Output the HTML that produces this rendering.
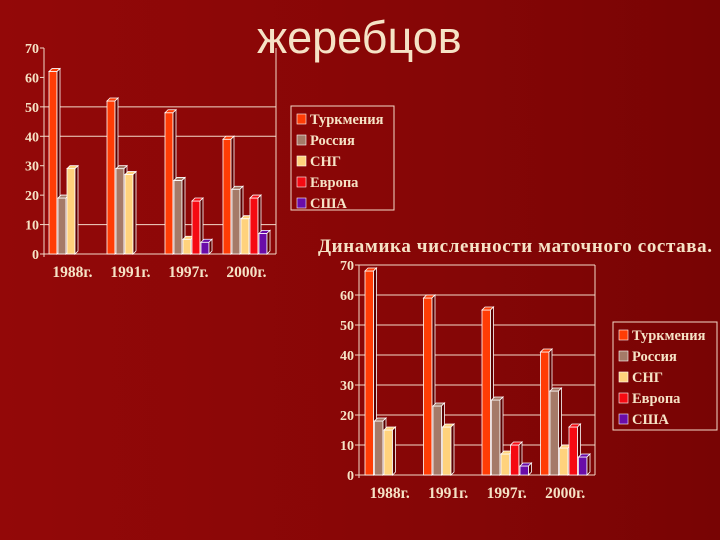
<!DOCTYPE html>
<html><head><meta charset="utf-8">
<style>
html,body{margin:0;padding:0;}
body{width:720px;height:540px;overflow:hidden;background:linear-gradient(90deg,#930808 0%,#860606 60%,#780404 100%);position:relative;font-family:"Liberation Serif","Noto Serif CJK SC",serif;}
#title{position:absolute;left:257px;top:12px;font-family:"Liberation Sans","DejaVu Sans",sans-serif;font-size:45px;font-weight:normal;color:#f6e3c6;margin:0;line-height:52px;}
svg{position:absolute;left:0;top:0;}
</style></head>
<body>
<h1 id="title">жеребцов</h1>
<svg id="svg" width="720" height="540"></svg>
<script>
const categories=["1988г.","1991г.","1997г.","2000г."];
const seriesNames=["Туркмения","Россия","СНГ","Европа","США"];
const c1Turk=[62,52,48,39];
const c1Rus=[19,29,25,22];
const c1Sng=[29,27,5,12];
const c1Eur=[0,0,18,19];
const c1Usa=[0,0,4,7];
const c2Turk=[68,59,55,41];
const c2Rus=[18,23,25,28];
const c2Sng=[15,16,7,9];
const c2Eur=[0,0,10,16];
const c2Usa=[0,0,3,6];
const yTicks=[0,10,20,30,40,50,60,70];
const colors=["#ff3c05","#a57a68","#ffd27c","#f50a12","#6a0ca8"];
const NS="http://www.w3.org/2000/svg";
const svg=document.getElementById('svg');
function mk(tag,attrs,parent){const e=document.createElementNS(NS,tag);for(const k in attrs)e.setAttribute(k,attrs[k]);(parent||svg).appendChild(e);return e;}
function drawChart(cfg,series,name){
  const g=mk('g',{});
  
  
  const y=v=>cfg.y0-(v/70)*(cfg.y0-cfg.y70);
  const x=(ci,si)=>cfg.x0+ci*cfg.gap+si*cfg.bw;
  cfg.grid.forEach(v=>{const l=mk('line',{x1:cfg.axisX,x2:cfg.right,y1:y(v),y2:y(v),stroke:'#f3d9c8','stroke-width':1},g);
    
    });
  mk('line',{x1:cfg.right,x2:cfg.right,y1:y(70),y2:y(0),stroke:'#f3d9c8'},g);
  const ax=mk('line',{x1:cfg.axisX,x2:cfg.axisX,y1:y(70),y2:y(0)+3,stroke:'#f3d9c8'},g);
  
  
  const bx=mk('line',{x1:cfg.axisX-3,x2:cfg.right,y1:y(0),y2:y(0),stroke:'#f3d9c8'},g);
  
  
  yTicks.forEach(v=>{
    mk('line',{x1:cfg.axisX-4,x2:cfg.axisX,y1:y(v),y2:y(v),stroke:'#f3d9c8'},g);
    const t=mk('text',{x:cfg.axisX-5,y:y(v)+5,'text-anchor':'end','font-size':14,'font-weight':'bold',fill:'#f6e3c6'},g);
    t.textContent=v;
    
    
  });
  categories.forEach((c,ci)=>{
    series.forEach((s,si)=>{
      const v=s[ci];const bx0=x(ci,si);const top=y(v);const h=y(0)-top;const d=3;
      if(v>0){
        const r=mk('rect',{x:bx0,y:top,width:cfg.bw-1,height:h,fill:colors[si],stroke:'#ffffff','stroke-width':0.8},g);
        
        
        mk('polygon',{points:`${bx0},${top} ${bx0+d},${top-d} ${bx0+cfg.bw-1+d},${top-d} ${bx0+cfg.bw-1},${top}`,fill:colors[si],stroke:'#fff','stroke-width':0.8},g);
        mk('polygon',{points:`${bx0+cfg.bw-1},${top} ${bx0+cfg.bw-1+d},${top-d} ${bx0+cfg.bw-1+d},${y(0)-d} ${bx0+cfg.bw-1},${y(0)}`,fill:'#5a0000',stroke:'#fff','stroke-width':0.8},g);
      }
    });
    const t=mk('text',{x:x(ci,0)+cfg.bw*2.6,y:cfg.labelY,'text-anchor':'middle','font-size':15.5,'font-weight':'bold',fill:'#f6e3c6'},g);
    t.textContent=c;
    
    
  });
  const lg=mk('g',{},g);
  
  
  mk('rect',{x:cfg.lx,y:cfg.ly,width:cfg.lw,height:cfg.lh,fill:'none',stroke:'#f3d9c8'},lg);
  seriesNames.forEach((n,si)=>{
    const yy=cfg.ly+13+si*cfg.lstep;
    mk('rect',{x:cfg.lx+6,y:yy-5,width:9,height:10,fill:colors[si],stroke:'#fff','stroke-width':0.6},lg);
    const t=mk('text',{x:cfg.lx+19,y:yy+5,'font-size':14.5,'font-weight':'bold',fill:'#f6e3c6'},lg);
    t.textContent=n;
    
    
  });
}
drawChart({y0:254,y70:48,axisX:44,right:276,x0:49,gap:58,bw:9,labelY:277,grid:[10,40,50],lx:291,ly:106,lw:103,lh:104,lstep:21},
  [c1Turk,c1Rus,c1Sng,c1Eur,c1Usa],'chart-stallions');
drawChart({y0:475,y70:265,axisX:359,right:595,x0:365,gap:58.5,bw:9.5,labelY:498,grid:[10,20,30,40,50,60,70],lx:613,ly:322,lw:104,lh:108,lstep:21},
  [c2Turk,c2Rus,c2Sng,c2Eur,c2Usa],'chart-mares');
const st=mk('text',{x:318,y:252,'font-size':19,'font-weight':'bold',fill:'#f6e3c6',textLength:394,lengthAdjust:'spacing'});
st.textContent='Динамика численности маточного состава.';


</script>
</body></html>
